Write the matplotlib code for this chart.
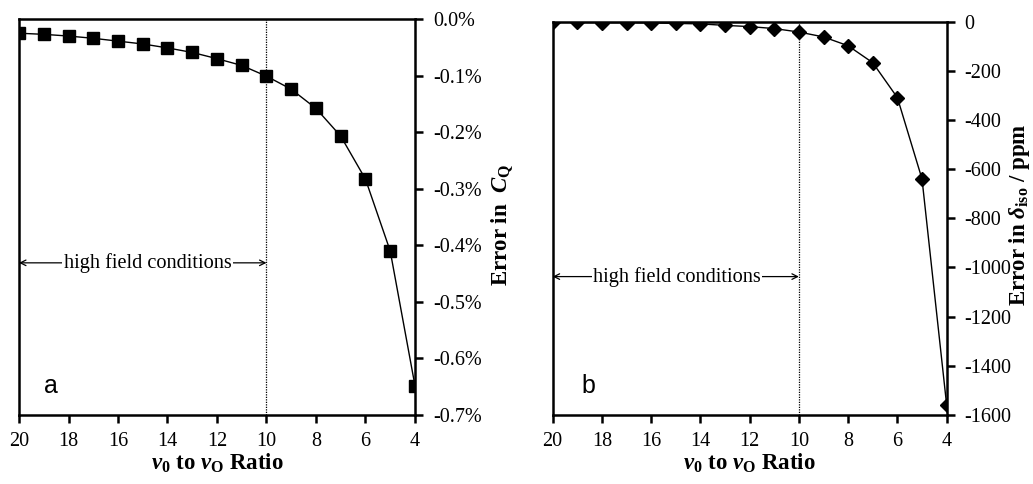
import matplotlib
matplotlib.use("Agg")
import matplotlib.pyplot as plt
import numpy as np

plt.rcParams['font.family'] = 'Liberation Serif'
plt.rcParams['axes.unicode_minus'] = False
plt.rcParams['mathtext.fontset'] = 'custom'
plt.rcParams['mathtext.rm'] = 'Liberation Serif:bold'
plt.rcParams['mathtext.it'] = 'Liberation Serif:italic:bold'
plt.rcParams['mathtext.bf'] = 'Liberation Serif:bold'

# ratio nu0 / nuQ
ratio = [20, 19, 18, 17, 16, 15, 14, 13, 12, 11, 10, 9, 8, 7, 6, 5, 4]
# error in CQ (%)
err_cq = [-0.025, -0.027, -0.030, -0.034, -0.039, -0.044, -0.051, -0.059,
          -0.070, -0.082, -0.101, -0.124, -0.158, -0.207, -0.283, -0.410, -0.648]
# error in delta_iso (ppm)
err_iso = [-3, -3, -4, -4, -5, -7, -9, -15, -20, -28, -42, -62, -98, -167,
           -309, -640, -1559]

cq_ticks = [0.0, -0.1, -0.2, -0.3, -0.4, -0.5, -0.6, -0.7]
cq_labels = ['0.0%', '-0.1%', '-0.2%', '-0.3%', '-0.4%', '-0.5%', '-0.6%', '-0.7%']

fig = plt.figure(figsize=(10.33, 4.84), dpi=100)
ax1 = fig.add_axes([0.0184, 0.1426, 0.3833, 0.818])
ax2 = fig.add_axes([0.535, 0.1426, 0.3814, 0.8126])


def style(ax):
    for s in ax.spines.values():
        s.set_linewidth(1.8)
    ax.set_xlim(20, 4)
    ax.set_xticks(np.arange(20, 3, -2))
    ax.yaxis.tick_right()
    ax.tick_params(direction='out', length=6, width=1.8, labelsize=14.5, pad=6)
    ax.tick_params(axis='y', pad=7)
    ax.set_xlabel(r'$\nu_0$ to $\nu_{\mathrm{O}}$ Ratio', fontsize=16.5,
                  fontweight='bold', labelpad=1)
    ax.axvline(10, color='black', lw=0.9, ls=(0, (1, 1)))


# panel a
ax1.plot(ratio, err_cq, color='black', lw=1.0, marker='s', ms=8, mec='black', mfc='black')
style(ax1)
ax1.set_ylim(-0.7, 0.0)
ax1.set_yticks(cq_ticks)
ax1.set_yticklabels(cq_labels)
ax1.set_ylabel(r'Error in  $C_{\mathrm{Q}}$', fontsize=16.5, fontweight='bold',
               rotation=90, ha='center', va='center')
ax1.yaxis.set_label_coords(1.222, 0.48)
ax1.annotate('', xy=(20, -0.431), xytext=(10, -0.431),
             arrowprops=dict(arrowstyle='<->', color='black', lw=0.9, shrinkA=0, shrinkB=0))
ax1.text(14.8, -0.431, 'high field conditions', fontsize=14.6, ha='center', va='center',
         bbox=dict(facecolor='white', edgecolor='none', pad=1))
ax1.text(0.063, 0.056, 'a', transform=ax1.transAxes, fontsize=18,
         family='Liberation Sans', va='baseline')

# panel b
ax2.plot(ratio, err_iso, color='black', lw=1.0, marker='D', ms=7, mec='black', mfc='black')
style(ax2)
ax2.set_ylim(-1600, 0)
ax2.set_yticks(np.arange(0, -1601, -200))
ax2.set_ylabel(r'Error in $\delta_{\mathrm{iso}}$ / ppm', fontsize=16.5, fontweight='bold',
               rotation=90, ha='center', va='center')
ax2.yaxis.set_label_coords(1.185, 0.51)
ax2.annotate('', xy=(20, -1037), xytext=(10, -1037),
             arrowprops=dict(arrowstyle='<->', color='black', lw=0.9, shrinkA=0, shrinkB=0))
ax2.text(14.95, -1037, 'high field conditions', fontsize=14.6, ha='center', va='center',
         bbox=dict(facecolor='white', edgecolor='none', pad=1))
ax2.text(0.074, 0.056, 'b', transform=ax2.transAxes, fontsize=18,
         family='Liberation Sans', va='baseline')

fig.savefig('out.png', dpi=100)
